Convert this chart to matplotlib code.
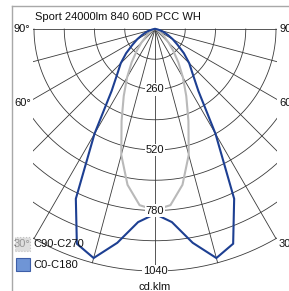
import numpy as np
import matplotlib
matplotlib.use("Agg")
import matplotlib.pyplot as plt
from matplotlib.patches import Rectangle

plt.rcParams['font.family'] = ['Liberation Sans', 'DejaVu Sans']

# gamma angles from nadir (deg) and intensities (cd/klm)
gamma = [0, 5, 10, 15, 20, 25, 30, 35, 40, 45, 50, 55, 60, 65, 70, 75, 80, 85, 90]
c0_c180 = [795, 833, 933, 1019, 982, 805, 520, 325, 252, 208, 162, 118, 88, 62, 42, 25, 12, 5, 0]
c90_c270 = [778, 760, 680, 560, 420, 318, 240, 175, 122, 82, 52, 32, 19, 11, 6, 3, 1, 0, 0]

ring_values = [130, 260, 390, 520, 650, 780, 910, 1040]
ring_labels = [260, 520, 780, 1040]
spoke_angles = [-90, -75, -60, -45, -30, -15, 0, 15, 30, 45, 60, 75, 90]

title = "Sport 24000lm 840 60D PCC WH"
unit = "cd.klm"
series_names = ["C90-C270", "C0-C180"]

# pixel layout -> data (cd) units
cx, cy = 155, 29
s = 1040 / 242.0


def P(px, py):
    return (px - cx) * s, (cy - py) * s


fig = plt.figure(figsize=(2.89, 2.91), dpi=100)
ax = fig.add_axes([0, 0, 1, 1])
ax.set_xlim(P(0, 0)[0], P(289, 0)[0])
ax.set_ylim(P(0, 291)[1], P(0, 0)[1])
ax.axis('off')

# frame
x0, y0 = P(12, 6)
ax.plot([x0, x0], [P(0, 291)[1], y0], color='#a8a8a8', lw=1)
ax.plot([x0, P(289, 0)[0]], [y0, y0], color='#a8a8a8', lw=1)

# grid clipped to rectangle
left, right = P(33, 0)[0], P(277, 0)[0]
clip = Rectangle((left, -1200), right - left, 1200 + 3, transform=ax.transData)
t = np.linspace(-np.pi, 0, 400)
for r in ring_values:
    ln, = ax.plot(r * np.cos(t), r * np.sin(t), color='#3a3a3a', lw=0.6)
    ln.set_clip_path(clip)
for a in spoke_angles:
    g = np.radians(a)
    ln, = ax.plot([0, 1040 * np.sin(g)], [0, -1040 * np.cos(g)], color='#3a3a3a', lw=0.6)
    ln.set_clip_path(clip)

# curves
g = np.radians(gamma)
for vals, col in [(c90_c270, '#b9b9b9'), (c0_c180, '#1d3f92')]:
    v = np.array(vals, dtype=float)
    xs = np.concatenate([-(v * np.sin(g))[::-1], (v * np.sin(g))[1:]])
    ys = np.concatenate([-(v * np.cos(g))[::-1], -(v * np.cos(g))[1:]])
    ax.plot(xs, ys, color=col, lw=1.5, solid_joinstyle='miter')

# ring labels
for r in ring_labels:
    ax.text(0, -r, str(r), ha='center', va='center', fontsize=8, color='#111111',
            bbox=dict(boxstyle='square,pad=0.1', fc='white', ec='none'))

ax.text(*P(155, 287), unit, ha='center', va='center', fontsize=8, color='#111111')
ax.text(*P(35, 17), title, ha='left', va='center', fontsize=8, color='#111111')

# angle labels
for lab, py in [("90°", 29), ("60°", 103), ("30°", 244)]:
    ax.text(*P(14, py), lab, ha='left', va='center', fontsize=8, color='#111111')
    ax.text(*P(279, py), lab, ha='left', va='center', fontsize=8, color='#111111')

# legend
sw = 14 * s
ax.add_patch(Rectangle(P(15, 251), 15 * s, 14 * s, fc='#d0d0d0', ec='#b0b0b0',
                       lw=0.8, ls=':', alpha=0.7, zorder=5))
ax.add_patch(Rectangle(P(16, 271), sw, 13 * s, fc='#6f95d6', ec='#3d5ea8', lw=0.8, zorder=5))
ax.text(*P(33, 244), series_names[0], ha='left', va='center', fontsize=8, color='#111111', zorder=6)
ax.text(*P(33, 265), series_names[1], ha='left', va='center', fontsize=8, color='#111111', zorder=6)

fig.savefig("out.png", dpi=100)
